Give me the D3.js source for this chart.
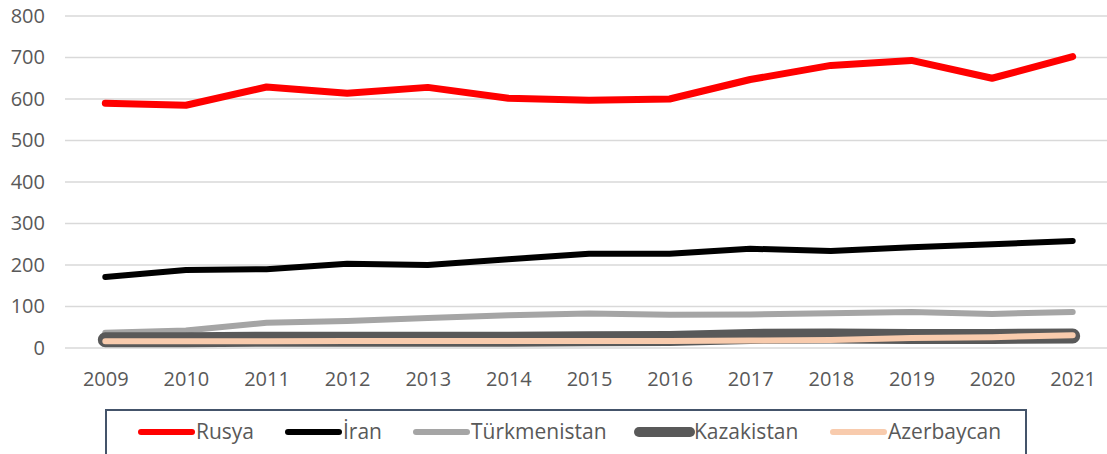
<!DOCTYPE html>
<html>
<head>
<meta charset="utf-8">
<script src="https://cdn.jsdelivr.net/npm/d3@7"></script>
<style>
  html, body { margin: 0; padding: 0; background: #fff; }
  svg { display: block; font-family: "Open Sans", sans-serif; }
</style>
</head>
<body>
<div class="chart_viz"></div>
<script>
var years = ["2009","2010","2011","2012","2013","2014","2015","2016","2017","2018","2019","2020","2021"];
var rusya = [590, 585, 629, 614, 628, 602, 597, 600, 647, 681, 693, 650, 702];
var iran = [171, 188, 190, 203, 200, 214, 227, 227, 239, 234, 243, 250, 258];
var turkmenistan = [37, 42, 61, 65, 72, 79, 83, 80, 81, 84, 87, 82, 87];
var kazakistan = [20, 20, 21, 21, 21, 21, 22, 23, 28, 29, 28, 28, 29];
var azerbaycan = [16, 16, 16, 17, 17, 17, 17, 17, 18, 19, 24, 26, 31];
var yTicks = [0, 100, 200, 300, 400, 500, 600, 700, 800];

var series = [
  {name: "Rusya", values: rusya, color: "#ff0000", width: 7, legendWidth: 6},
  {name: "İran", values: iran, color: "#000000", width: 6, legendWidth: 6},
  {name: "Türkmenistan", values: turkmenistan, color: "#a5a5a5", width: 6, legendWidth: 6},
  {name: "Kazakistan", values: kazakistan, color: "#595959", width: 15, legendWidth: 10},
  {name: "Azerbaycan", values: azerbaycan, color: "#f8cbad", width: 6, legendWidth: 6}
];

var W = 1107, H = 454;
var svg = d3.select(".chart_viz").append("svg")
  .attr("width", W)
  .attr("height", H);

var x = d3.scalePoint().domain(years).range([65, 1113]).padding(0.5);
var y = d3.scaleLinear().domain([0, 800]).range([348, 16]);

// gridlines
svg.append("g").selectAll("line")
  .data(yTicks)
  .join("line")
  .attr("x1", 65).attr("x2", W)
  .attr("y1", d => y(d)).attr("y2", d => y(d))
  .attr("stroke", "#d9d9d9")
  .attr("stroke-width", 1.5);

// y axis labels
var yAxis = svg.append("g")
  .attr("transform", "translate(45,0)")
  .call(d3.axisLeft(y).tickValues(yTicks).tickSize(0).tickPadding(0));
yAxis.select(".domain").remove();
yAxis.selectAll("text")
  .attr("font-family", "Open Sans, sans-serif")
  .attr("font-size", 20)
  .attr("fill", "#595959");

// x axis labels
var xAxis = svg.append("g")
  .attr("transform", "translate(0,372)")
  .call(d3.axisBottom(x).tickSize(0).tickPadding(0));
xAxis.select(".domain").remove();
xAxis.selectAll("text")
  .attr("font-family", "Open Sans, sans-serif")
  .attr("font-size", 20)
  .attr("fill", "#595959");

var line = d3.line()
  .x((d, i) => x(years[i]))
  .y(d => y(d));

svg.append("g").selectAll("path")
  .data(series)
  .join("path")
  .attr("d", d => line(d.values))
  .attr("fill", "none")
  .attr("stroke", d => d.color)
  .attr("stroke-width", d => d.width)
  .attr("stroke-linecap", "round")
  .attr("stroke-linejoin", "round");

// legend
var lg = svg.append("g");
lg.append("rect")
  .attr("x", 106).attr("y", 410)
  .attr("width", 920).attr("height", 60)
  .attr("fill", "#fff")
  .attr("stroke", "#44546a")
  .attr("stroke-width", 2);

var legendX = [138, 285, 413, 636, 830];
var items = lg.selectAll("g.item")
  .data(series)
  .join("g")
  .attr("class", "item")
  .attr("transform", (d, i) => "translate(" + legendX[i] + ",432)");
items.append("line")
  .attr("x1", 3).attr("x2", 54)
  .attr("stroke", d => d.color)
  .attr("stroke-width", d => d.legendWidth)
  .attr("stroke-linecap", "round");
items.append("text")
  .attr("x", 58)
  .attr("dy", "0.35em")
  .attr("font-size", 21)
  .attr("fill", "#595959")
  .text(d => d.name);
</script>
</body>
</html>
